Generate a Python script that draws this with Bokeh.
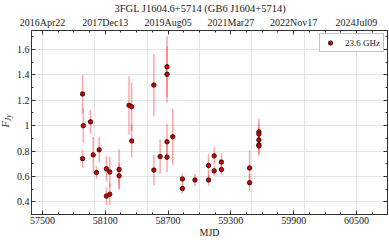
from bokeh.plotting import figure
from bokeh.models import (ColumnDataSource, LinearAxis, FixedTicker, Range1d,
                          Legend, LegendItem, Div)
from bokeh.layouts import row
from bokeh.embed import file_html
from bokeh.resources import INLINE

# ---- data ----
mjd = [57883, 57883, 57890, 57959, 57985, 58016, 58042, 58111, 58111, 58143,
       58143, 58232, 58232, 58327, 58352, 58352, 58564, 58564, 58624, 58690,
       58690, 58690, 58690, 58745, 58837, 58837, 58957, 59087, 59087, 59141,
       59141, 59210, 59210, 59479, 59479, 59568, 59568, 59568, 59568, 59568]
flux = [1.25, 0.74, 1.00, 1.03, 0.77, 0.63, 0.81, 0.66, 0.445, 0.635,
        0.46, 0.655, 0.605, 1.16, 1.15, 0.88, 1.32, 0.65, 0.757, 1.465,
        1.405, 0.873, 0.752, 0.913, 0.58, 0.505, 0.572, 0.686, 0.572, 0.762,
        0.644, 0.713, 0.654, 0.667, 0.551, 0.952, 0.934, 0.888, 0.850, 0.840]
ferr = [0.15, 0.07, 0.135, 0.095, 0.14, 0.05, 0.10, 0.10, 0.07, 0.12,
        0.085, 0.16, 0.10, 0.23, 0.19, 0.13, 0.245, 0.12, 0.135, 0.24,
        0.22, 0.14, 0.12, 0.22, 0.045, 0.04, 0.05, 0.09, 0.045, 0.07,
        0.04, 0.07, 0.04, 0.14, 0.07, 0.10, 0.08, 0.06, 0.07, 0.08]

xticks = [57500, 58100, 58700, 59300, 59900, 60500]
date_labels = ["2016Apr22", "2017Dec13", "2019Aug05", "2021Mar27", "2022Nov17", "2024Jul09"]
yticks = [0.4, 0.6, 0.8, 1.0, 1.2, 1.4, 1.6]
title_text = "3FGL J1604.6+5714 (GB6 J1604+5714)"
series_label = "23.6 GHz"
x_label = "MJD"

FONT = "Liberation Serif"
AX = "#333333"
TXT = "#222222"

DIV_W = 13
W, H = 389 - DIV_W, 240

src = ColumnDataSource(dict(
    x=mjd, y=flux,
    lo=[f - e for f, e in zip(flux, ferr)],
    hi=[f + e for f, e in zip(flux, ferr)],
))

p = figure(width=W, height=H, output_backend="svg", toolbar_location=None,
           x_range=Range1d(57395, 60797), y_range=Range1d(0.3, 1.75),
           x_axis_location=None, y_axis_location=None,
           min_border_left=16, min_border_right=2, min_border_top=28,
           min_border_bottom=25)
p.outline_line_color = AX
p.background_fill_color = "white"
p.border_fill_color = "white"

# title
p.title.text = title_text
p.title.text_font = FONT
p.title.text_font_size = "10.5px"
p.title.text_font_style = "normal"
p.title.text_color = TXT
p.title.align = "left"
p.title.offset = 83
p.title.standoff = 0

x_minor = [57350 + 150 * i for i in range(25)]
y_minor = [round(0.3 + 0.1 * i, 2) for i in range(15)]
xt = FixedTicker(ticks=xticks, minor_ticks=x_minor)
yt = FixedTicker(ticks=yticks, minor_ticks=y_minor)


def style(ax):
    ax.axis_line_color = AX
    ax.major_tick_line_color = AX
    ax.minor_tick_line_color = AX
    ax.major_tick_in = 4
    ax.major_tick_out = 0
    ax.minor_tick_in = 2
    ax.minor_tick_out = 0
    ax.major_label_text_font = FONT
    ax.major_label_text_color = TXT
    ax.major_label_text_font_size = "10px"
    ax.major_label_standoff = 2
    ax.axis_label_text_font = FONT
    ax.axis_label_text_font_style = "normal"
    ax.axis_label_text_font_size = "10px"
    ax.axis_label_text_color = TXT
    ax.axis_label_standoff = 0


bottom = LinearAxis(ticker=xt, axis_label=x_label)
style(bottom)
p.add_layout(bottom, "below")

top = LinearAxis(ticker=xt,
                 major_label_overrides={float(t): s for t, s in zip(xticks, date_labels)})
style(top)
top.major_label_standoff = 3
p.add_layout(top, "above")

left = LinearAxis(ticker=yt)
style(left)
p.add_layout(left, "left")

right = LinearAxis(ticker=yt,
                   major_label_overrides={float(t): "" for t in yticks})
style(right)
right.major_label_text_color = None
right.major_label_standoff = 0
p.add_layout(right, "right")

# error bars and points
bars = p.segment(x0="x", y0="lo", x1="x", y1="hi", source=src,
                 line_color="#ff2020", line_alpha=0.4, line_width=1.5)
pts = p.scatter(x="x", y="y", source=src, marker="circle", size=4.5,
                fill_color="#d40000", line_color="black", line_width=0.7)

legend = Legend(items=[LegendItem(label=series_label, renderers=[pts])],
                location="top_right", margin=3, padding=3, spacing=0,
                glyph_width=14, glyph_height=11, label_standoff=8,
                label_height=11,
                label_text_font=FONT, label_text_font_size="9px",
                label_text_color=TXT,
                border_line_color="#888888", border_line_width=1,
                background_fill_alpha=1.0)
p.add_layout(legend)

# rotated y-axis label F_Jy as real HTML text
ylab_html = (
    f'<div style="position:relative;width:{DIV_W}px;height:{H}px;">'
    '<div style="position:absolute;left:7px;top:121px;'
    'transform:translate(-50%,-50%) rotate(-90deg);white-space:nowrap;'
    "font-family:'Liberation Serif';font-size:10.5px;line-height:1;color:#222222;"
    'font-style:italic;">F<sub style="font-size:7.5px;font-style:italic;'
    'vertical-align:-2px;">Jy</sub></div></div>'
)
ylab = Div(text=ylab_html, width=DIV_W, height=H, margin=0)

layout = row(ylab, p, spacing=0)

open("out.html", "w").write(file_html(layout, INLINE))
